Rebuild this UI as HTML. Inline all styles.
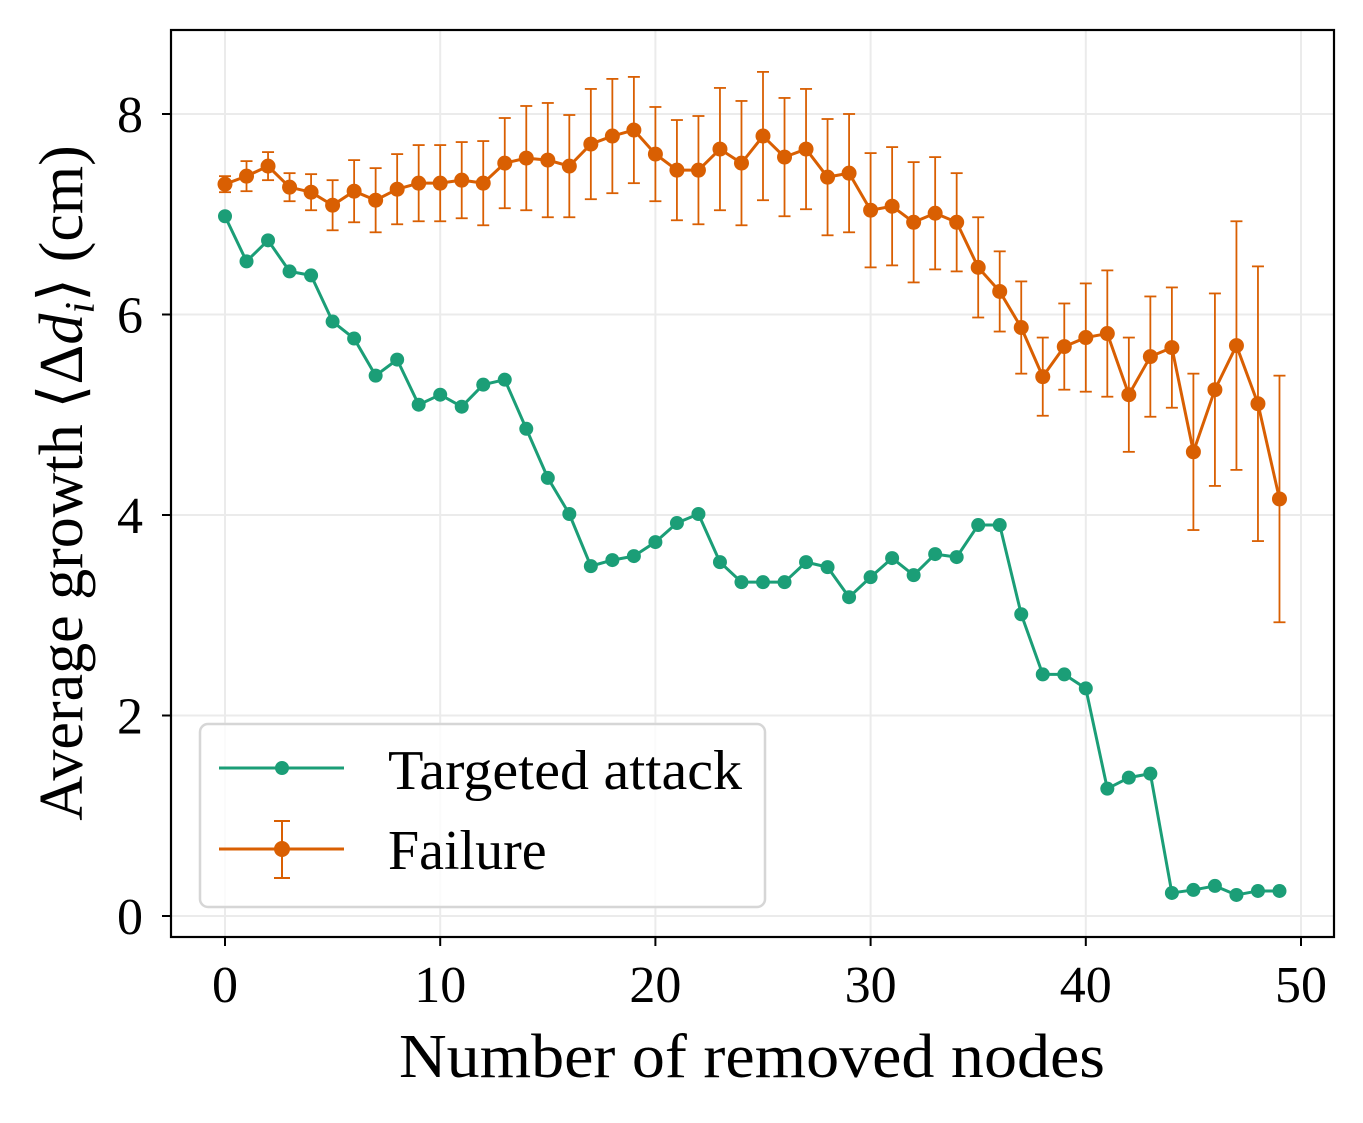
<!DOCTYPE html>
<html><head><meta charset="utf-8"><style>
body{margin:0;background:#fff}
svg{display:block;font-family:"Liberation Serif",serif}
</style></head><body>
<svg id="chart" width="1363" height="1123" viewBox="0 0 1363 1123" xmlns="http://www.w3.org/2000/svg">
<g id="grid"></g>
<g id="series"></g>
<rect x="171" y="30" width="1163" height="907" fill="none" stroke="#000" stroke-width="2.2"/>
<g id="axes"></g>
<text x="752" y="1077" font-size="62" text-anchor="middle" textLength="706" lengthAdjust="spacingAndGlyphs">Number of removed nodes</text>
<text transform="translate(82,483) rotate(-90)" font-size="62" text-anchor="middle">Average growth ⟨Δ<tspan font-style="italic">d</tspan><tspan font-style="italic" font-size="42" dy="12">i</tspan><tspan dy="-12">⟩ (cm)</tspan></text>
<g>
<rect x="200" y="724" width="565" height="183" rx="8" fill="#fff" fill-opacity="0.8" stroke="#d6d6d6" stroke-width="2.5"/>
<g>
<line x1="219" y1="768" x2="344" y2="768" stroke="#1b9e77" stroke-width="3"/>
<circle cx="282" cy="768" r="7" fill="#1b9e77"/>
<text x="388" y="789" font-size="56" textLength="354" lengthAdjust="spacingAndGlyphs">Targeted attack</text></g>
<g>
<line x1="219" y1="849" x2="344" y2="849" stroke="#d95f02" stroke-width="3"/>
<line x1="282" y1="821" x2="282" y2="878" stroke="#d95f02" stroke-width="2"/>
<line x1="274" y1="821" x2="290" y2="821" stroke="#d95f02" stroke-width="2"/>
<line x1="274" y1="878" x2="290" y2="878" stroke="#d95f02" stroke-width="2"/>
<circle cx="282" cy="849" r="8" fill="#d95f02"/>
<text x="388" y="869" font-size="56">Failure</text></g>
</g>
</svg>
<script>
const xTicks=[0,10,20,30,40,50];
const yTicks=[0,2,4,6,8];
const attack=[6.98,6.53,6.74,6.43,6.39,5.93,5.76,5.39,5.55,5.10,5.20,5.08,5.30,5.35,4.86,4.37,4.01,3.49,3.55,3.59,3.73,3.92,4.01,3.53,3.33,3.33,3.33,3.53,3.48,3.18,3.38,3.57,3.40,3.61,3.58,3.90,3.90,3.01,2.41,2.41,2.27,1.27,1.38,1.42,0.23,0.26,0.30,0.21,0.25,0.25];
const failure=[7.30,7.38,7.48,7.27,7.22,7.09,7.23,7.14,7.25,7.31,7.31,7.34,7.31,7.51,7.56,7.54,7.48,7.70,7.78,7.84,7.60,7.44,7.44,7.65,7.51,7.78,7.57,7.65,7.37,7.41,7.04,7.08,6.92,7.01,6.92,6.47,6.23,5.87,5.38,5.68,5.77,5.81,5.20,5.58,5.67,4.63,5.25,5.69,5.11,4.16];
const failureErr=[0.08,0.15,0.14,0.14,0.18,0.25,0.31,0.32,0.35,0.38,0.38,0.38,0.42,0.45,0.52,0.57,0.51,0.55,0.57,0.53,0.47,0.50,0.54,0.61,0.62,0.64,0.59,0.60,0.58,0.59,0.57,0.59,0.60,0.56,0.49,0.50,0.40,0.46,0.39,0.43,0.54,0.63,0.57,0.60,0.60,0.78,0.96,1.24,1.37,1.23];
const NS="http://www.w3.org/2000/svg";
const X=v=>225+v*21.52, Y=v=>916-v*100.25;
function mk(p,t,a){const e=document.createElementNS(NS,t);for(const k in a)e.setAttribute(k,a[k]);p.appendChild(e);return e;}
const grid=document.getElementById('grid'),axes=document.getElementById('axes'),ser=document.getElementById('series');
xTicks.forEach(t=>{
 const g=mk(grid,'line',{x1:X(t),x2:X(t),y1:30,y2:937,stroke:'#ebebeb','stroke-width':2});
 
 
 const k=mk(axes,'line',{x1:X(t),x2:X(t),y1:937,y2:946,stroke:'#000','stroke-width':2});
 
 
 const l=mk(axes,'text',{x:X(t),y:1002,'font-size':52,'text-anchor':'middle'});l.textContent=t;
 
 
});
yTicks.forEach(t=>{
 const g=mk(grid,'line',{x1:171,x2:1334,y1:Y(t),y2:Y(t),stroke:'#ebebeb','stroke-width':2});
 
 
 const k=mk(axes,'line',{x1:162,x2:171,y1:Y(t),y2:Y(t),stroke:'#000','stroke-width':2});
 
 
 const l=mk(axes,'text',{x:143,y:Y(t)+18,'font-size':52,'text-anchor':'end'});l.textContent=t;
 
 
});
failure.forEach((v,i)=>{
 const g=mk(ser,'g',{stroke:'#d95f02','stroke-width':1.8});
 
 
 const t=Y(v+failureErr[i]),b=Y(v-failureErr[i]),x=X(i);
 mk(g,'line',{x1:x,x2:x,y1:t,y2:b});mk(g,'line',{x1:x-6,x2:x+6,y1:t,y2:t});mk(g,'line',{x1:x-6,x2:x+6,y1:b,y2:b});
});
function line(data,color,name,r){
 const p=mk(ser,'polyline',{points:data.map((v,i)=>X(i)+','+Y(v)).join(' '),fill:'none',stroke:color,'stroke-width':3,'stroke-linejoin':'round'});
 
 
 data.forEach((v,i)=>{const c=mk(ser,'circle',{cx:X(i),cy:Y(v),r:r,fill:color});
 
 });
}
line(failure,'#d95f02','failure',7.5);
line(attack,'#1b9e77','targeted-attack',7);
</script>
</body></html>
